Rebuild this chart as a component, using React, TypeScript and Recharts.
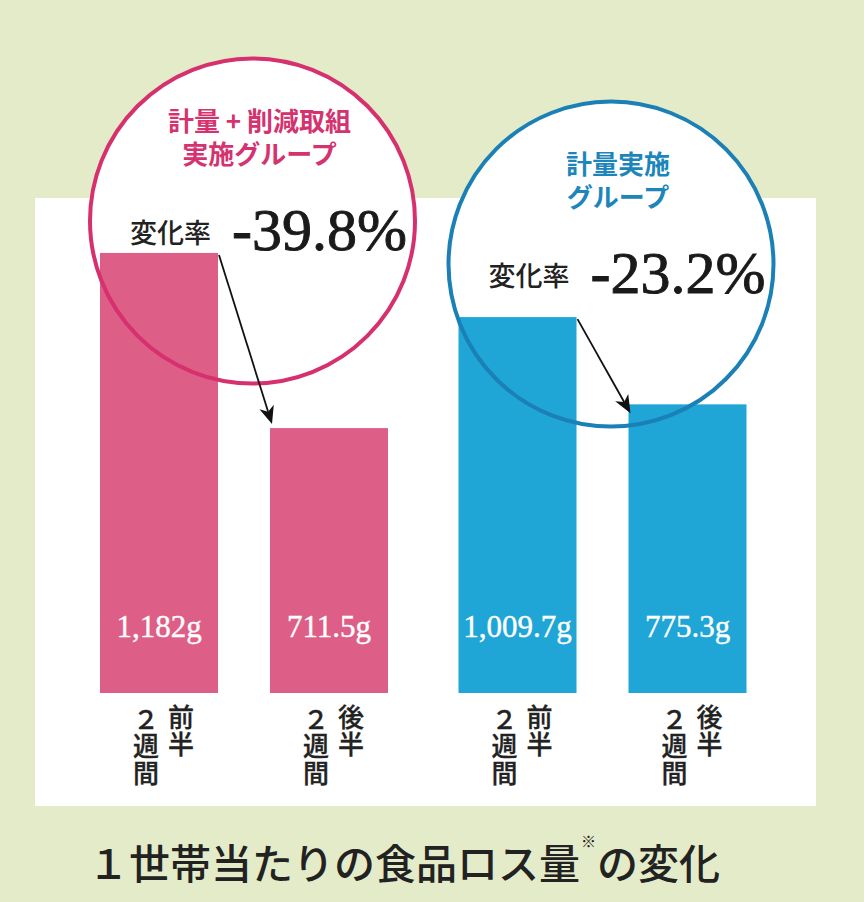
import React from "react";
import { BarChart, Bar, XAxis, YAxis } from "recharts";

const groups = ["計量＋削減取組実施グループ", "計量実施グループ"];
const groupHeadings = [
  ["計量 + 削減取組", "実施グループ"],
  ["計量実施", "グループ"],
];
const firstHalf = [1182, 1009.7];
const secondHalf = [711.5, 775.3];
const periodNames = ["前半", "後半"];
const spanLabel = "２週間";
const changeLabel = "変化率";
const titleMain = "１世帯当たりの食品ロス量";
const titleNote = "※";
const titleTail = "の変化";

const data = groups.map((g, i) => ({ group: g, first: firstHalf[i], second: secondHalf[i] }));

// styles
const BG = "#e4ebc8";
const barColors = ["#dd5e86", "#1fa6d6"];
const ringColors = ["#d6306e", "#1a80b6"];
const headColors = ["#d4336f", "#1c86bb"];
const ringLift = [32, 53];
const arrowTipDy = [-4, 9];
const BAR_GAP = 52;
const RING_R = 162.5;
const JP = "'Noto Sans CJK JP', sans-serif";
const SERIF = "'Liberation Serif', serif";

const fmt = (v: number) => v.toLocaleString("en-US") + "g";
const rate = (a: number, b: number) => ((b - a) / a * 100).toFixed(1) + "%";

function groupIndex(p: any) {
  const k = groups.indexOf(p?.payload?.group);
  return k >= 0 ? k : p.index ?? 0;
}

function BarExtras({ x, y, width, height, value, period }: any) {
  const cx = x + width / 2;
  const base = y + height;
  const colStyle = { writingMode: "vertical-rl" as const };
  return (
    <g>
      <text x={cx} y={base - 56} textAnchor="middle" fill="#fff" stroke="#fff" strokeWidth={0.4} fontSize={31} fontFamily={SERIF}>
        {fmt(value)}
      </text>
      <text x={cx + 22} y={base + 11} style={colStyle} fontSize={26} fontWeight={500} letterSpacing={1} fill="#222" stroke="#222" strokeWidth={0.3} fontFamily={JP}>
        {period}
      </text>
      <text x={cx - 13} y={base + 13} style={colStyle} fontSize={26} fontWeight={500} letterSpacing={1} fill="#222" stroke="#222" strokeWidth={0.3} fontFamily={JP}>
        {spanLabel}
      </text>
    </g>
  );
}

function FirstShape(p: any) {
  const i = groupIndex(p);
  const { x, y, width, height } = p;
  return (
    <g>
      <circle cx={x + 152.5} cy={y - ringLift[i]} r={RING_R} fill="#fff" />
      <rect x={x} y={y} width={width} height={height} fill={barColors[i]} />
      <BarExtras x={x} y={y} width={width} height={height} value={firstHalf[i]} period={periodNames[0]} />
    </g>
  );
}

function SecondShape(p: any) {
  const i = groupIndex(p);
  const { x, y, width, height } = p;
  const base = y + height;
  const x1 = x - width - BAR_GAP;
  const y1 = base - (height * firstHalf[i]) / secondHalf[i];
  const cx = x1 + 152.5;
  const cy = y1 - ringLift[i];

  // arrow from the first bar's corner down to the second bar
  const sx = x1 + width + 1;
  const sy = y1 + 2;
  const tx = x + 2;
  const ty = y + arrowTipDy[i];
  const dx = tx - sx;
  const dy = ty - sy;
  const len = Math.hypot(dx, dy);
  const ux = dx / len;
  const uy = dy / len;
  const nx = -uy;
  const ny = ux;
  const head = [
    [tx, ty],
    [tx - ux * 18 + nx * 7.5, ty - uy * 18 + ny * 7.5],
    [tx - ux * 13, ty - uy * 13],
    [tx - ux * 18 - nx * 7.5, ty - uy * 18 - ny * 7.5],
  ]
    .map((q) => q.join(","))
    .join(" ");

  return (
    <g>
      <rect x={x} y={y} width={width} height={height} fill={barColors[i]} />
      <BarExtras x={x} y={y} width={width} height={height} value={secondHalf[i]} period={periodNames[1]} />
      <circle cx={cx} cy={cy} r={RING_R} fill="none" stroke={ringColors[i]} strokeWidth={4} />
      <text x={cx + 7} y={cy - 90} textAnchor="middle" fontSize={26} fontWeight={700} fill={headColors[i]} fontFamily={JP}>
        {groupHeadings[i].map((t, j) => (
          <tspan key={j} x={cx + 7} dy={j === 0 ? 0 : 33}>
            {t}
          </tspan>
        ))}
      </text>
      <text x={x1 + 30} y={cy + 22} fontSize={27} fontWeight={500} fill="#222" fontFamily={JP}>
        {changeLabel}
      </text>
      <text x={x1 + 132} y={cy + 29} fontSize={60} fill="#1a1a1a" stroke="#1a1a1a" strokeWidth={0.9} fontFamily={SERIF}>
        {rate(firstHalf[i], secondHalf[i])}
      </text>
      <line x1={sx} y1={sy} x2={tx - ux * 13} y2={ty - uy * 13} stroke="#111" strokeWidth={1.8} />
      <polygon points={head} fill="#111" />
    </g>
  );
}

export default function App() {
  return (
    <div style={{ position: "absolute", left: 0, top: 0, width: 864, height: 902, background: BG, overflow: "hidden" }}>
      <div style={{ position: "absolute", left: 35, top: 198, width: 781, height: 608, background: "#fff" }} />
      <div style={{ position: "absolute", left: 0, top: 0 }}>
        <BarChart
          width={864}
          height={902}
          data={data}
          margin={{ top: 209, right: 82, bottom: 209, left: 65 }}
          barSize={118}
          barGap={BAR_GAP}
        >
          <XAxis dataKey="group" hide />
          <YAxis hide domain={[0, 1300]} />
          <Bar dataKey="first" isAnimationActive={false} shape={FirstShape} />
          <Bar dataKey="second" isAnimationActive={false} shape={SecondShape} />
        </BarChart>
      </div>
      <svg width={864} height={902} style={{ position: "absolute", left: 0, top: 0, pointerEvents: "none" }}>
        <text x={88} y={879} fontSize={41} fontWeight={500} fill="#222" fontFamily={JP}>
          {titleMain}
          <tspan fontSize={15} dy={-32} dx={1}>{titleNote}</tspan>
          <tspan fontSize={41} dy={32} dx={1}>{titleTail}</tspan>
        </text>
      </svg>
    </div>
  );
}
